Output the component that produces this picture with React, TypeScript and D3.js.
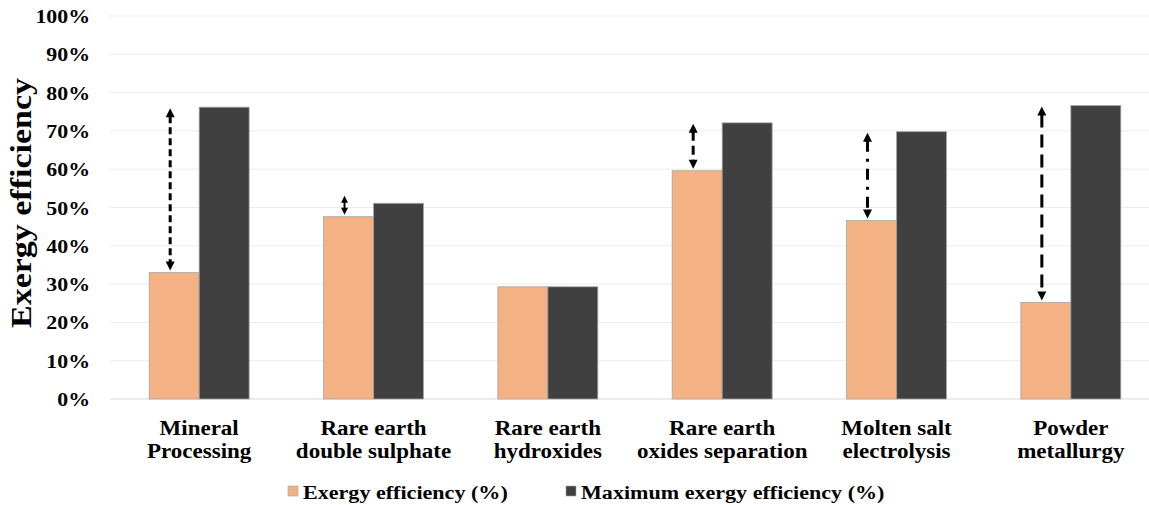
import React from "react";
import * as d3 from "d3";

const catLine1 = ["Mineral", "Rare earth", "Rare earth", "Rare earth", "Molten salt", "Powder"];
const catLine2 = ["Processing", "double sulphate", "hydroxides", "oxides separation", "electrolysis", "metallurgy"];
const exergy = [33.0, 47.6, 29.3, 59.6, 46.6, 25.2];
const maxExergy = [76.2, 51.1, 29.3, 72.1, 69.8, 76.6];
const yTicks = [0, 10, 20, 30, 40, 50, 60, 70, 80, 90, 100];
const seriesNames = ["Exergy efficiency (%)", "Maximum exergy efficiency (%)"];
// arrow dash style per category ("" = solid, null = no arrow)
const arrowDash: (string | null)[] = ["7,4", "", null, "9,5", "11,7,3,7", "13,7"];

const W = 1149;
const H = 505;
const FONT = "'Liberation Serif', 'Times New Roman', serif";
const COLORS = ["#F4B183", "#404040"];
const SX = 1.15;

function T(props: { x: number; y: number; size: number; anchor?: string; children: React.ReactNode }) {
  return (
    <text
      transform={`translate(${props.x},${props.y}) scale(${SX},1)`}
      textAnchor={props.anchor || "start"}
      fontFamily={FONT}
      fontWeight="bold"
      fontSize={props.size}
      fill="#000"
    >
      {props.children}
    </text>
  );
}

export default function App() {
  const x = d3.scaleBand<number>().domain(d3.range(catLine1.length)).range([112, 1158]).padding(0);
  const inner = d3.scaleBand<number>().domain([0, 1]).range([0, x.bandwidth()]).paddingInner(0).paddingOuter(0.744);
  const y = d3.scaleLinear().domain([0, 100]).range([399, 16]);

  const arrowHead = (cx: number, tipY: number, dir: number, h: number) => {
    // dir = -1 pointing up, +1 pointing down
    const base = tipY - dir * h;
    const hw = h * 0.5;
    return `M${cx},${tipY} L${cx - hw},${base} L${cx + hw},${base} Z`;
  };

  return (
    <svg width={W} height={H} style={{ position: "absolute", left: 0, top: 0, background: "#fff" }}>
      {yTicks.map((t) => (
        <line key={"g" + t} x1={110} x2={W} y1={y(t)} y2={y(t)} stroke={t === 0 ? "#d9d9d9" : "#ececec"} strokeWidth={1} />
      ))}
      {yTicks.map((t) => (
        <T key={"t" + t} x={90} y={y(t) + 7} size={19} anchor="end">{t + "%"}</T>
      ))}
      <text
        transform={`translate(31,${203}) rotate(-90)`}
        textAnchor="middle"
        fontFamily={FONT}
        fontWeight="bold"
        fontSize={29}
        textLength={250}
        lengthAdjust="spacingAndGlyphs"
        fill="#000"
      >
        Exergy efficiency
      </text>
      {catLine1.map((c, i) => {
        const x0 = x(i)!;
        const vals = [exergy[i], maxExergy[i]];
        return (
          <g key={"c" + i}>
            {vals.map((v, s) => (
              <rect
                key={s}
                x={x0 + inner(s)!}
                y={y(v)}
                width={inner.bandwidth()}
                height={y(0) - y(v)}
                fill={COLORS[s]}
                stroke="#a6a6a6"
                strokeWidth={0.8}
              />
            ))}
          </g>
        );
      })}
      {catLine1.map((c, i) => {
        const dash = arrowDash[i];
        if (dash === null) return null;
        const cx = x(i)! + inner(0)! + inner.bandwidth() / 2 - 4;
        let top = y(maxExergy[i]) + 1;
        const bot = y(exergy[i]) - 2;
        if (bot - top < 24) top = bot - 19;
        const h = bot - top < 24 ? 7 : 9;
        return (
          <g key={"a" + i}>
            <line x1={cx} x2={cx} y1={top + h - 1} y2={bot - h + 1} stroke="#000" strokeWidth={h < 9 ? 2 : 3} strokeDasharray={dash || undefined} />
            <path d={arrowHead(cx, top, -1, h)} fill="#000" />
            <path d={arrowHead(cx, bot, 1, h)} fill="#000" />
          </g>
        );
      })}
      {catLine1.map((c, i) => {
        const cx = x(i)! + x.bandwidth() / 2;
        return (
          <g key={"l" + i}>
            <T x={cx} y={435} size={20} anchor="middle">{c}</T>
            <T x={cx} y={458} size={20} anchor="middle">{catLine2[i]}</T>
          </g>
        );
      })}
      {seriesNames.map((n, s) => {
        const lx = [288, 566][s];
        return (
          <g key={"lg" + s}>
            <rect x={lx} y={486} width={10} height={10} fill={COLORS[s]} stroke="#a6a6a6" strokeWidth={0.6} />
            <T x={lx + 15} y={499} size={19.2}>{n}</T>
          </g>
        );
      })}
    </svg>
  );
}
